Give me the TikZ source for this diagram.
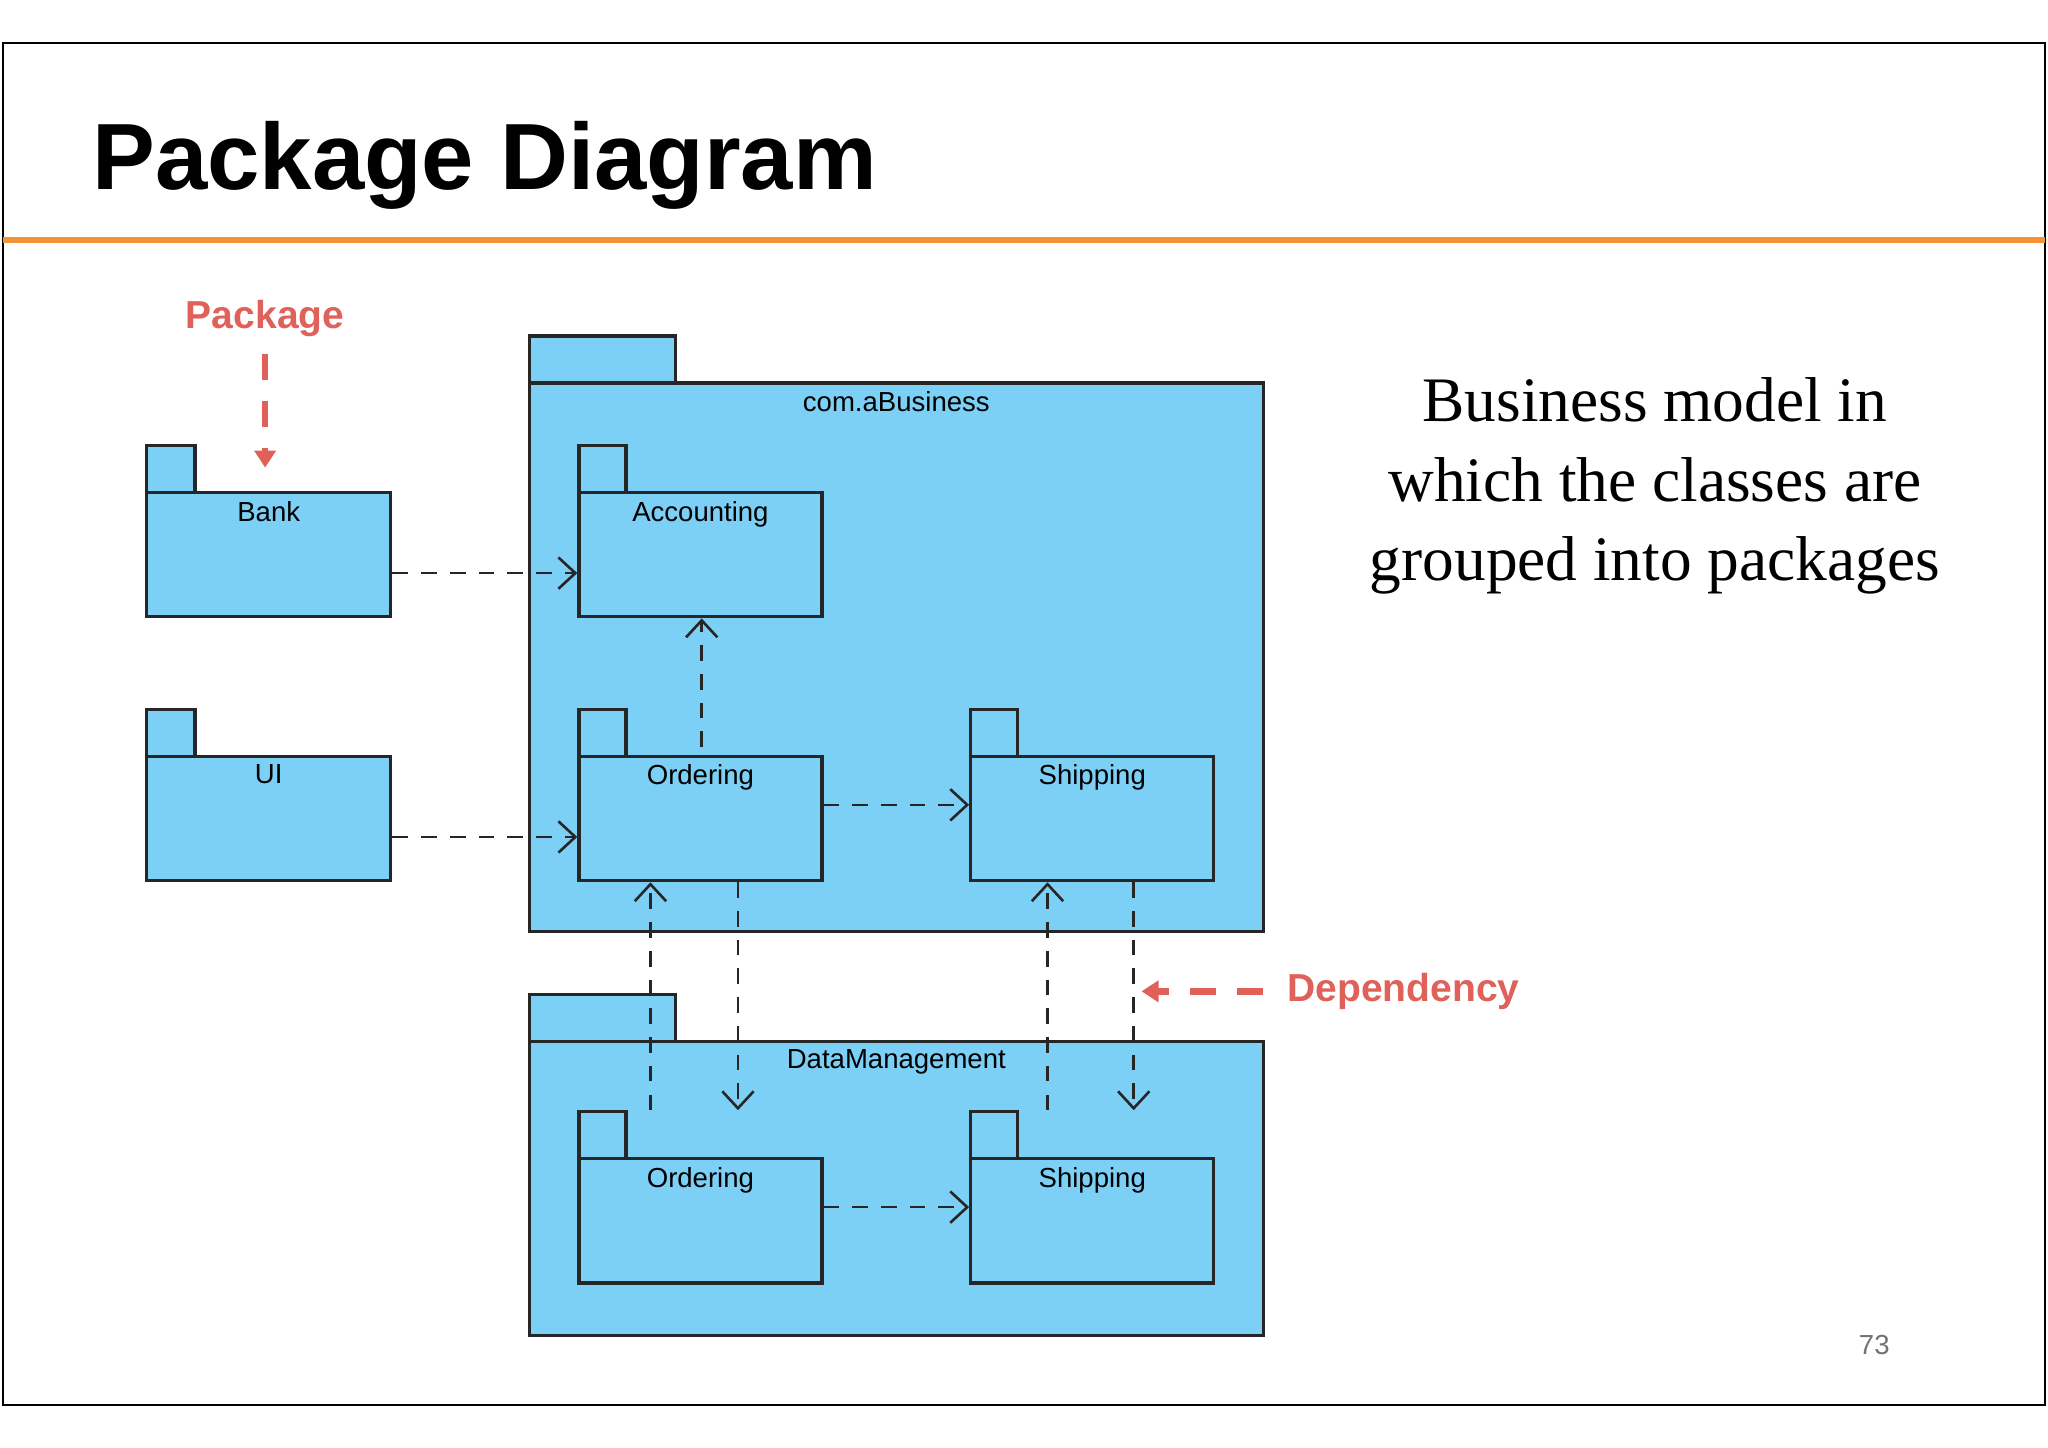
\documentclass[tikz,border=0pt]{standalone}
\usepackage{fontspec}
\setmainfont{Liberation Serif}
\newfontfamily\sansf{Liberation Sans}
\usetikzlibrary{arrows.meta,calc}
\definecolor{pkgblue}{HTML}{7CCFF5}
\definecolor{orangeline}{HTML}{F39237}
\definecolor{annred}{HTML}{E0605A}
\begin{document}
\begin{tikzpicture}[x=0.1mm,y=-0.1mm,
  body/.style={draw=black!85,line width=0.25mm,fill=pkgblue,inner sep=0pt,anchor=north west},
  lbl/.style={font=\sansf\fontsize{6}{7}\selectfont,anchor=north,inner sep=0pt},
  dep/.style={draw=black!85,line width=0.2mm,dash pattern=on 1.2mm off 1mm,-{Straight Barb[length=1.3mm,width=2.4mm,line width=0.2mm]}},
  redarr/.style={draw=annred,line width=0.5mm,dash pattern=on 2mm off 1.6mm,-{Triangle[length=1.3mm,width=1.6mm]}}]
\useasboundingbox (0,0) rectangle (1568,1108);
\fill[white] (0,0) rectangle (1568,1108);
\draw[line width=0.15mm] (2,33) rectangle (1566,1076);
\node[anchor=base west,inner sep=0pt,font=\sansf\bfseries\fontsize{20.5}{24}\selectfont] (title) at (70,145) {Package Diagram};
\draw[orangeline,line width=0.45mm] (2,184) -- (1566,184);
% packages
\newcommand{\pkg}[8]{% name, x, y(top of tab), tabw, w, h, label
  \node[body,minimum width=#4*0.1mm,minimum height=36*0.1mm] (#1tab) at (#2,#3) {};
  \node[body,minimum width=#5*0.1mm,minimum height=#6*0.1mm] (#1) at (#2,#3+36) {};
  \node[lbl] (#1lbl) at ($(#1.north)+(0,7)$) {#7};}
\pkg{biz}{404}{256}{112}{562}{420}{com.aBusiness}{}
\pkg{dm}{404}{760}{112}{562}{225}{DataManagement}{}
\pkg{bank}{111}{340}{37}{187}{95}{Bank}{}
\pkg{ui}{111}{542}{37}{187}{95}{UI}{}
\pkg{acc}{442}{340}{36}{186}{95}{Accounting}{}
\pkg{ord}{442}{542}{36}{186}{95}{Ordering}{}
\pkg{shp}{742}{542}{36}{186}{95}{Shipping}{}
\pkg{dord}{442}{850}{36}{186}{95}{Ordering}{}
\pkg{dshp}{742}{850}{36}{186}{95}{Shipping}{}
% dependencies
\draw[dep] ([yshift=-4]bank.east) -- ([yshift=-4]acc.west);
\draw[dep] ([yshift=-4]ui.east) -- ([yshift=-4]ord.west);
\draw[dep] ($(ord.north)+(1,-6)$) -- ($(acc.south)+(1,0)$);
\draw[dep] ([yshift=3]ord.east) -- ([yshift=3]shp.west);
\draw[dep] ($(dord.north west)+(56,-36)$) -- ($(ord.south west)+(56,0)$);
\draw[dep] ($(ord.south west)+(123,0)$) -- ($(dord.north west)+(123,-36)$);
\draw[dep] ($(dshp.north west)+(60,-36)$) -- ($(shp.south west)+(60,0)$);
\draw[dep] ($(shp.south west)+(126,0)$) -- ($(dshp.north west)+(126,-36)$);
\draw[dep] ([yshift=3]dord.east) -- ([yshift=3]dshp.west);
% annotations
\node[font=\sansf\bfseries\fontsize{8.5}{10}\selectfont,text=annred,inner sep=0pt] (pkgtxt) at (203,244) {Package};
\coordinate (pkgtip) at (203,358);
\draw[redarr] (pkgtxt.south)++(0,12) -- (pkgtip);
\node[font=\sansf\bfseries\fontsize{8.5}{10}\selectfont,text=annred,inner sep=0pt,anchor=west] (deptxt) at (985,759) {Dependency};
\coordinate (deptip) at (874,759);
\draw[redarr] ($(deptxt.west)+(-18,0)$) -- (deptip);
\node[align=center,font=\fontsize{13.8}{17.4}\selectfont,inner sep=0pt] (desc) at (1267,372) {Business model in\\which the classes are\\grouped into packages};
\node[font=\sansf\fontsize{6}{7}\selectfont,text=black!55,inner sep=0pt] (pnum) at (1435,1030) {73};
\end{tikzpicture}
\end{document}
